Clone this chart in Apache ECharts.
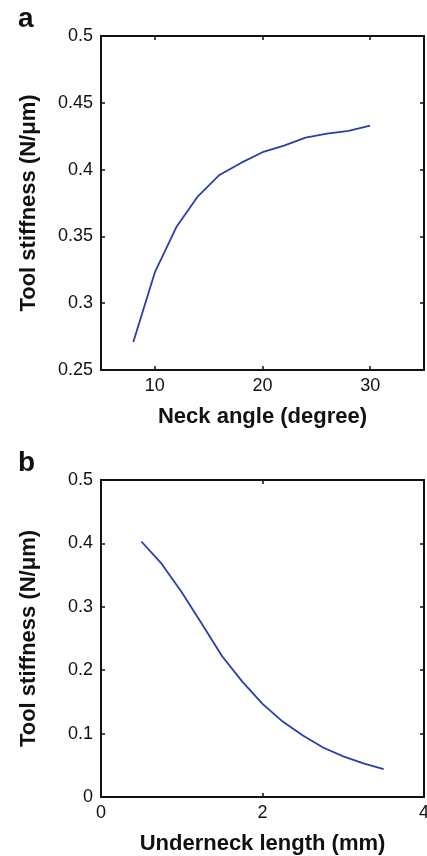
<!DOCTYPE html>
<html><head><meta charset="utf-8">
<script src="https://cdn.jsdelivr.net/npm/echarts@6/dist/echarts.min.js"></script>
<style>html,body{margin:0;padding:0;background:#fff}#c{width:427px;height:856px}</style>
</head><body><div id="c"></div>
<script>
// Panel a
const neckAngle = [8, 10, 12, 14, 16, 18, 20, 22, 24, 26, 28, 30];
const stiffnessA = [0.271, 0.323, 0.357, 0.380, 0.396, 0.405, 0.413, 0.418, 0.424, 0.427, 0.429, 0.433];
const xTicksA = [10, 20, 30];
const yTicksA = [0.25, 0.3, 0.35, 0.4, 0.45, 0.5];
// Panel b
const underneck = [0.5, 0.75, 1.0, 1.25, 1.5, 1.75, 2.0, 2.25, 2.5, 2.75, 3.0, 3.25, 3.5];
const stiffnessB = [0.403, 0.368, 0.323, 0.273, 0.222, 0.182, 0.147, 0.119, 0.097, 0.078, 0.064, 0.053, 0.044];
const xTicksB = [0, 2, 4];
const yTicksB = [0, 0.1, 0.2, 0.3, 0.4, 0.5];

const FONT = '"Liberation Sans", Arial, Helvetica, sans-serif';
const lineCol = '#111';
const labelStyle = {color: '#111', fontSize: 18, fontFamily: FONT};
const nameStyle = {color: '#111', fontSize: 22, fontWeight: 'bold', fontFamily: FONT};

function mainX(grid, min, max, ticks, name, gap) {
  return {
    type: 'value', gridIndex: grid, min: min, max: max, position: 'bottom',
    name: name, nameLocation: 'middle', nameGap: gap, nameTextStyle: nameStyle,
    axisLine: {show: true, onZero: false, lineStyle: {color: lineCol, width: 2}},
    axisTick: {show: true, inside: true, length: 4, customValues: ticks, lineStyle: {color: lineCol, width: 1.5}},
    axisLabel: {show: true, margin: 7, customValues: ticks, showMinLabel: true, showMaxLabel: true, hideOverlap: false, ...labelStyle},
    splitLine: {show: false}
  };
}
function mirrorX(grid, min, max, ticks) {
  return {
    type: 'value', gridIndex: grid, min: min, max: max, position: 'top',
    axisLine: {show: true, onZero: false, lineStyle: {color: lineCol, width: 2}},
    axisTick: {show: true, inside: true, length: 4, customValues: ticks, lineStyle: {color: lineCol, width: 1.5}},
    axisLabel: {show: false}, splitLine: {show: false}
  };
}
function mainY(grid, ticks, name, gap) {
  return {
    type: 'value', gridIndex: grid, min: ticks[0], max: ticks[ticks.length - 1], position: 'left',
    name: name, nameLocation: 'middle', nameGap: gap, nameTextStyle: nameStyle,
    axisLine: {show: true, onZero: false, lineStyle: {color: lineCol, width: 2}},
    axisTick: {show: true, inside: true, length: 4, customValues: ticks, lineStyle: {color: lineCol, width: 1.5}},
    axisLabel: {show: true, margin: 8, customValues: ticks, showMinLabel: true, showMaxLabel: true, hideOverlap: false, ...labelStyle},
    splitLine: {show: false}
  };
}
function mirrorY(grid, ticks) {
  return {
    type: 'value', gridIndex: grid, min: ticks[0], max: ticks[ticks.length - 1], position: 'right',
    axisLine: {show: true, onZero: false, lineStyle: {color: lineCol, width: 2}},
    axisTick: {show: true, inside: true, length: 4, customValues: ticks, lineStyle: {color: lineCol, width: 1.5}},
    axisLabel: {show: false}, splitLine: {show: false}
  };
}

const chart = echarts.init(document.getElementById('c'), null, {renderer: 'canvas'});
chart.setOption({
  animation: false,
  backgroundColor: '#fff',
  title: [
    {text: 'a', left: 18, top: 5, padding: 0, textStyle: {fontSize: 28, fontWeight: 'bold', color: '#111', fontFamily: FONT}},
    {text: 'b', left: 18, top: 449, padding: 0, textStyle: {fontSize: 28, fontWeight: 'bold', color: '#111', fontFamily: FONT}}
  ],
  grid: [
    {left: 101, top: 36, width: 323, height: 334, containLabel: false, outerBoundsMode: 'none'},
    {left: 101, top: 480, width: 323, height: 317, containLabel: false, outerBoundsMode: 'none'}
  ],
  xAxis: [
    mainX(0, 5, 35, xTicksA, 'Neck angle (degree)', 36),
    mirrorX(0, 5, 35, xTicksA),
    mainX(1, 0, 4, xTicksB, 'Underneck length (mm)', 36),
    mirrorX(1, 0, 4, xTicksB)
  ],
  yAxis: [
    mainY(0, yTicksA, 'Tool stiffness (N/μm)', 61),
    mirrorY(0, yTicksA),
    mainY(1, yTicksB, 'Tool stiffness (N/μm)', 61),
    mirrorY(1, yTicksB)
  ],
  series: [
    {type: 'line', xAxisIndex: 0, yAxisIndex: 0, showSymbol: false, symbol: 'none',
     lineStyle: {color: '#2b3ea6', width: 1.8}, data: neckAngle.map((x, i) => [x, stiffnessA[i]])},
    {type: 'line', xAxisIndex: 2, yAxisIndex: 2, showSymbol: false, symbol: 'none',
     lineStyle: {color: '#2b3ea6', width: 1.8}, data: underneck.map((x, i) => [x, stiffnessB[i]])}
  ]
});
</script>
</body></html>
